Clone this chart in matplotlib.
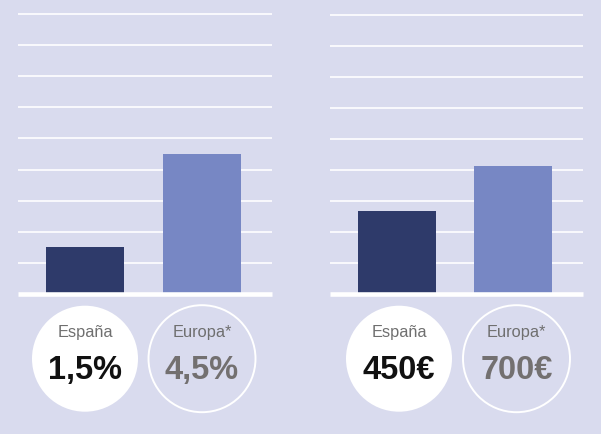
import matplotlib.pyplot as plt
from matplotlib.patches import Circle

# datos
categorias = ['España', 'Europa*']
porcentaje = [1.5, 4.5]
coste = [450, 700]
etiquetas_pct = ['1,5%', '4,5%']
etiquetas_coste = ['450€', '700€']

fondo = '#d9dbee'
oscuro = '#2e3a6a'
claro = '#7787c4'
gris = '#737070'

plt.rcParams['font.family'] = ['Liberation Sans', 'DejaVu Sans']

W, H = 601, 434
fig = plt.figure(figsize=(W / 100, H / 100), dpi=100, facecolor=fondo)

px = 31.0        # pixeles por linea de cuadricula
base = 293.5     # y de la linea base (pixeles)
top = 10.0       # y superior del eje


def panel(x0, x1, valores, paso):
    ax = fig.add_axes([x0 / W, 1 - base / H, (x1 - x0) / W, (base - top) / H])
    ax.set_facecolor('none')
    ax.bar([0, 1], valores, width=78 / 117, color=[oscuro, claro], zorder=3)
    ax.set_xlim(-67 / 117, 1 + 70 / 117)
    ax.set_ylim(0, paso * (base - top) / px)
    for k in range(1, 10):
        ax.axhline(k * paso, color='white', lw=1.2, zorder=1, solid_capstyle='butt')
    ax.axhline(0, color='white', lw=3.3, zorder=4, clip_on=False, solid_capstyle='butt')
    for s in ax.spines.values():
        s.set_visible(False)
    ax.set_xticks([])
    ax.set_yticks([])
    return ax


panel(18, 272, porcentaje, 1.0)
panel(330, 583, coste, 170.0)

# circulos con etiquetas
ov = fig.add_axes([0, 0, 1, 1])
ov.set_xlim(0, W)
ov.set_ylim(H, 0)
ov.axis('off')
ov.set_facecolor('none')

grupos = [((85, 202), etiquetas_pct), ((399, 516.5), etiquetas_coste)]
for (cx_esp, cx_eur), textos in grupos:
    cy = 358.7
    ov.add_patch(Circle((cx_esp, cy), 53, facecolor='white', edgecolor='none'))
    ov.add_patch(Circle((cx_eur, cy), 53.5, facecolor='none', edgecolor='white', lw=1.4))
    for cx, cat, txt, col in zip((cx_esp, cx_eur), categorias, textos, ('#111111', gris)):
        ov.text(cx, 336.7, cat, ha='center', va='baseline', fontsize=11.8, color='#6f6f6f')
        ov.text(cx, 379.3, txt, ha='center', va='baseline', fontsize=23.5,
                fontweight='bold', color=col)

fig.savefig('out.png', dpi=100, facecolor=fondo)
